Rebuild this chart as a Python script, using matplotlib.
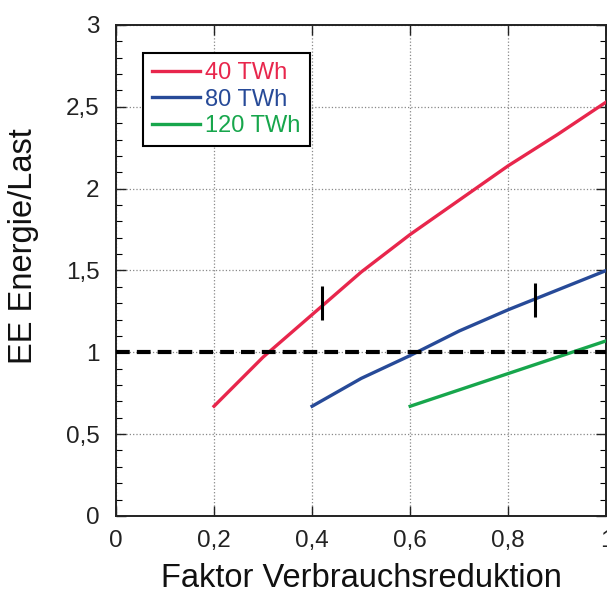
import matplotlib
matplotlib.use("Agg")
import matplotlib.pyplot as plt
from matplotlib.ticker import MultipleLocator, FuncFormatter

plt.rcParams['font.family'] = ['Liberation Sans', 'DejaVu Sans']

# Data
x_40 = [0.2, 0.3, 0.4, 0.5, 0.6, 0.7, 0.8, 0.9, 1.0]
y_40 = [0.67, 0.97, 1.23, 1.49, 1.72, 1.93, 2.14, 2.33, 2.53]
x_80 = [0.4, 0.5, 0.6, 0.7, 0.8, 0.9, 1.0]
y_80 = [0.67, 0.84, 0.98, 1.13, 1.26, 1.38, 1.50]
x_120 = [0.6, 0.7, 0.8, 0.9, 1.0]
y_120 = [0.67, 0.77, 0.87, 0.97, 1.07]
labels = ['40 TWh', '80 TWh', '120 TWh']
colors = ['#e8264c', '#274a98', '#17a64c']
mark_x = [0.42, 0.855]
mark_y = [1.30, 1.32]
ref_y = 1.0

fig = plt.figure(figsize=(6.07, 5.95), dpi=100)
ax = fig.add_axes([0.191, 0.133, 0.808, 0.825])

for xs, ys, lab, c in zip([x_40, x_80, x_120], [y_40, y_80, y_120], labels, colors):
    ax.plot(xs, ys, color=c, lw=2.4, label=lab, zorder=3)

ax.axhline(ref_y, color='black', lw=3.0, ls=(0, (3.3, 1.7)), zorder=4)
ax.plot(mark_x, mark_y, ls='none', marker='|', color='black', ms=25, mew=2.2, zorder=5)

ax.set_xlim(0, 1)
ax.set_ylim(0, 3)
ax.xaxis.set_major_locator(MultipleLocator(0.2))
ax.yaxis.set_major_locator(MultipleLocator(0.5))
ax.yaxis.set_minor_locator(MultipleLocator(0.1))

def fmt(v, pos):
    s = ('%.1f' % v)
    if s.endswith('.0'):
        s = s[:-2]
    return s.replace('.', ',')

ax.xaxis.set_major_formatter(FuncFormatter(fmt))
ax.yaxis.set_major_formatter(FuncFormatter(fmt))

ax.tick_params(axis='both', which='major', direction='in', length=7, width=1,
               labelsize=17.5, colors='#222222')
ax.tick_params(axis='y', which='both', left=True, right=True)
ax.tick_params(axis='y', which='minor', direction='in', length=4, width=0.8)
ax.tick_params(axis='x', which='major', pad=10, top=True)
ax.tick_params(axis='y', which='major', pad=12)

ax.grid(True, which='major', color='#888888', ls=':', lw=0.9)
for s in ax.spines.values():
    s.set_linewidth(1.4)
    s.set_color('#222222')

ax.set_xlabel('Faktor Verbrauchsreduktion', fontsize=23.5, labelpad=8, color='#111111')
ax.set_ylabel('EE Energie/Last', fontsize=23.5, color='#111111')
ax.yaxis.set_label_coords(-0.157, 0.55)

leg = ax.legend(loc='upper left', bbox_to_anchor=(0.055, 0.943), fontsize=17,
                labelcolor='linecolor', frameon=True, fancybox=False,
                edgecolor='black', handlelength=2.0, handletextpad=0.25,
                borderpad=0.4, labelspacing=0.18, borderaxespad=0)
leg.get_frame().set_linewidth(1.5)
leg.get_frame().set_alpha(1)

fig.savefig('out.png', dpi=100)
